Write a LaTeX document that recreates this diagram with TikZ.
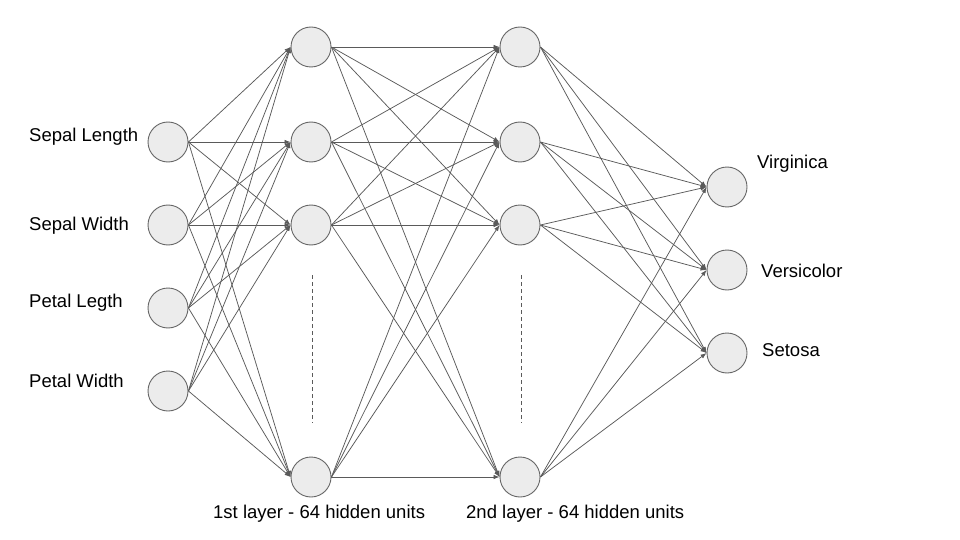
\documentclass[tikz,border=0pt]{standalone}
\usepackage{fontspec}
\setmainfont{Liberation Sans}
\usetikzlibrary{arrows.meta}
\definecolor{nodefill}{HTML}{ECECEC}
\definecolor{nodeline}{HTML}{666666}
\definecolor{edgecol}{HTML}{5A5A5A}
\begin{document}
\begin{tikzpicture}[x=1pt,y=-1pt,
  neuron/.style={circle,draw=nodeline,fill=nodefill,line width=0.9pt,minimum size=40pt,inner sep=0pt},
  conn/.style={draw=edgecol,line width=0.75pt,-{Latex[length=6pt,width=4.5pt]}},
  lbl/.style={anchor=base west,inner sep=0pt,font=\fontsize{18.5}{22}\selectfont},
  dots/.style={draw=edgecol,line width=0.8pt,dash pattern=on 4pt off 3pt}]
\useasboundingbox (0,0) rectangle (960,540);
% input layer
\node[neuron] (i1) at (168,142) {};
\node[neuron] (i2) at (168,225) {};
\node[neuron] (i3) at (168,308) {};
\node[neuron] (i4) at (168,391) {};
% hidden layer 1
\node[neuron] (a1) at (311,47) {};
\node[neuron] (a2) at (311,142) {};
\node[neuron] (a3) at (311,225) {};
\node[neuron] (a4) at (311,477) {};
% hidden layer 2
\node[neuron] (b1) at (520,47) {};
\node[neuron] (b2) at (520,142) {};
\node[neuron] (b3) at (520,225) {};
\node[neuron] (b4) at (520,477) {};
% output layer
\node[neuron] (o1) at (727,187) {};
\node[neuron] (o2) at (727,270) {};
\node[neuron] (o3) at (727,353) {};
% connections
\foreach \s in {i1,i2,i3,i4}{\foreach \t in {a1,a2,a3,a4}{\draw[conn] (\s.east) -- (\t.west);}}
\foreach \s in {a1,a2,a3,a4}{\foreach \t in {b1,b2,b3,b4}{\draw[conn] (\s.east) -- (\t.west);}}
\foreach \s in {b1,b2,b3,b4}{\foreach \t in {o1,o2,o3}{\draw[conn] (\s.east) -- (\t.west);}}
% ellipsis lines
\coordinate (d1t) at (312,275); \coordinate (d1b) at (312,423);
\coordinate (d2t) at (521,275); \coordinate (d2b) at (521,423);
\draw[dots] (d1t) -- (d1b);
\draw[dots] (d2t) -- (d2b);
% labels
\node[lbl] (l1) at (29,142) {Sepal Length};
\node[lbl] (l2) at (29,230) {Sepal Width};
\node[lbl] (l3) at (29,307) {Petal Legth};
\node[lbl] (l4) at (29,387) {Petal Width};
\node[lbl] (r1) at (757,169) {Virginica};
\node[lbl] (r2) at (761,277) {Versicolor};
\node[lbl] (r3) at (762,356) {Setosa};
\node[lbl] (h1) at (213,518) {1st layer - 64 hidden units};
\node[lbl] (h2) at (466,518) {2nd layer - 64 hidden units};
\end{tikzpicture}
\end{document}
